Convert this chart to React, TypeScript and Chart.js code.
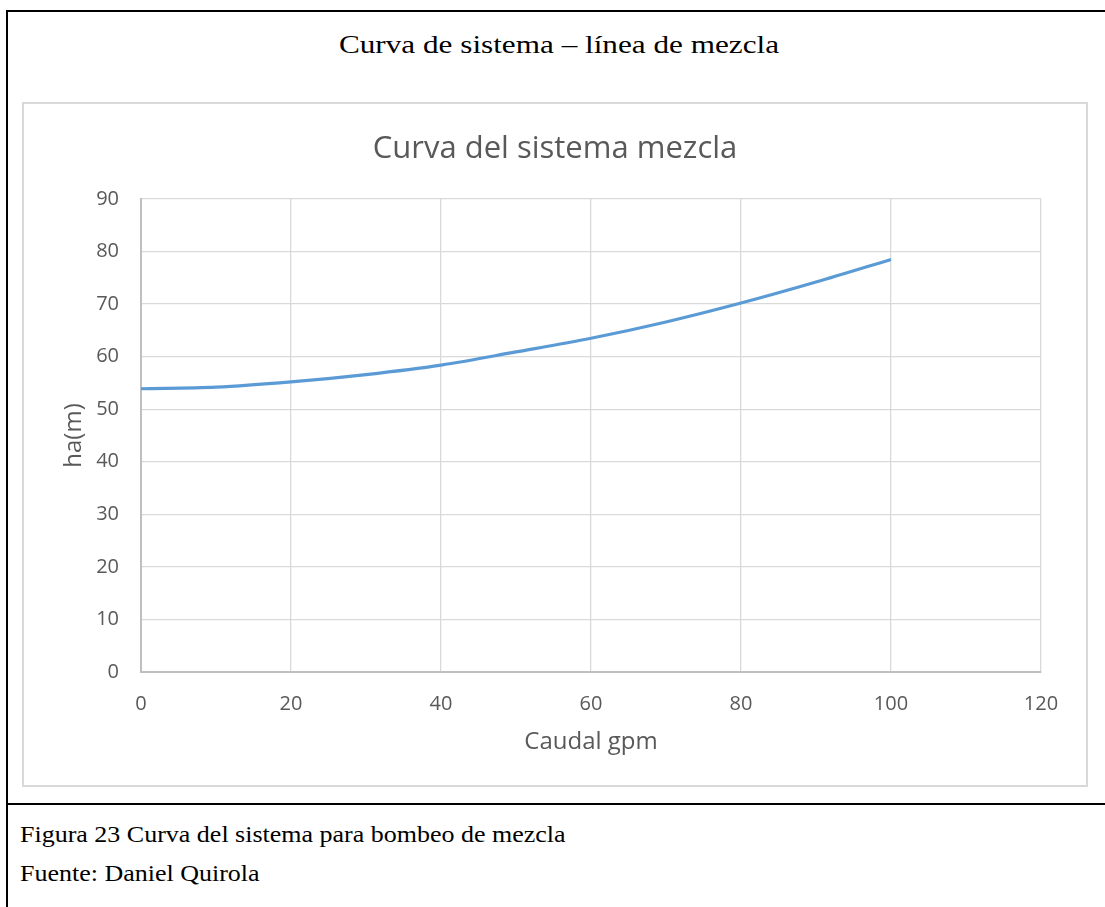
import React, { useEffect, useRef } from "react";
import { Chart, registerables } from "chart.js";

Chart.register(...registerables);

// Caudal (gpm) and head ha (m) of the mixing-line system curve
const caudalGpm = [0, 10, 20, 30, 40, 50, 60, 70, 80, 90, 100];
const alturaM = [53.9, 54.2, 55.2, 56.6, 58.4, 60.9, 63.5, 66.6, 70.2, 74.2, 78.5];

const xTicks = [0, 20, 40, 60, 80, 100, 120];
const yTicks = [0, 10, 20, 30, 40, 50, 60, 70, 80, 90];

const pageTitle = "Curva de sistema – línea de mezcla";
const chartTitle = "Curva del sistema mezcla";
const xTitle = "Caudal gpm";
const yTitle = "ha(m)";
const caption = "Figura 23 Curva del sistema para bombeo de mezcla";
const source = "Fuente: Daniel Quirola";

const GRAY_TEXT = "#595959";
const FONT = "'Open Sans', sans-serif";

function SystemCurve() {
  const canvasRef = useRef<HTMLCanvasElement | null>(null);

  useEffect(() => {
    if (!canvasRef.current) return;
    const points = caudalGpm.map((q, i) => ({ x: q, y: alturaM[i] }));
    const chart = new Chart(canvasRef.current, {
      type: "line",
      data: {
        datasets: [
          {
            data: points,
            borderColor: "#5b9bd5",
            borderWidth: 3.2,
            pointRadius: 0,
            fill: false,
            cubicInterpolationMode: "monotone",
          },
        ],
      },
      options: {
        animation: false,
        responsive: false,
        maintainAspectRatio: false,
        layout: { padding: { left: 45, right: 45, top: 0, bottom: 0 } },
        plugins: {
          legend: { display: false },
          tooltip: { enabled: false },
          title: {
            display: true,
            text: chartTitle,
            color: GRAY_TEXT,
            font: { family: FONT, size: 31, weight: "normal" },
            padding: { top: 26.4, bottom: 31.4 },
          },
        },
        scales: {
          x: {
            type: "linear",
            min: 0,
            max: 120,
            afterBuildTicks: (scale: any) => {
              scale.ticks = xTicks.map((v) => ({ value: v }));
            },
            afterFit: (scale: any) => {
              scale.height = 113;
            },
            ticks: {
              color: GRAY_TEXT,
              font: { family: FONT, size: 20 },
              padding: 20.5,
              maxRotation: 0,
            },
            grid: { color: "#d9d9d9", lineWidth: 1.3, drawTicks: false },
            border: { color: "#bfbfbf", width: 2 },
            title: {
              display: true,
              text: xTitle,
              color: GRAY_TEXT,
              font: { family: FONT, size: 24 },
              padding: { top: 0, bottom: 28.6 },
            },
          },
          y: {
            type: "linear",
            min: 0,
            max: 90,
            afterBuildTicks: (scale: any) => {
              scale.ticks = yTicks.map((v) => ({ value: v }));
            },
            afterFit: (scale: any) => {
              scale.width = 72;
            },
            ticks: {
              color: GRAY_TEXT,
              font: { family: FONT, size: 20 },
              padding: 22,
            },
            grid: { color: "#d9d9d9", lineWidth: 1.3, drawTicks: false },
            border: { color: "#bfbfbf", width: 2 },
            title: {
              display: true,
              text: yTitle,
              color: GRAY_TEXT,
              font: { family: FONT, size: 24 },
              padding: { top: -9.4, bottom: 0 },
            },
          },
        },
      },
    });
    return () => chart.destroy();
  }, []);

  return <canvas ref={canvasRef} width={1062} height={681} style={{ display: "block" }} />;
}

export default function App() {
  const serif = "'Liberation Serif', 'Times New Roman', serif";
  return (
    <div
      style={{
        position: "absolute",
        left: 0,
        top: 0,
        width: 1105,
        height: 907,
        background: "#ffffff",
        overflow: "hidden",
      }}
    >
      {/* frame: top and left rules */}
      <div
        style={{
          position: "absolute",
          left: 6,
          top: 10,
          right: 0,
          bottom: 0,
          borderTop: "2px solid #000",
          borderLeft: "2px solid #000",
        }}
      />
      {/* separator between figure and caption */}
      <div
        style={{
          position: "absolute",
          left: 6,
          top: 803,
          right: 0,
          height: 2,
          background: "#000",
        }}
      />
      <div
        style={{
          position: "absolute",
          left: 13,
          right: 0,
          top: 28,
          textAlign: "center",
          fontFamily: serif,
          fontSize: 26,
          lineHeight: "34px",
          color: "#000",
          transform: "scaleX(1.2)",
          transformOrigin: "50% 0",
        }}
      >
        {pageTitle}
      </div>
      <div
        style={{
          position: "absolute",
          left: 22,
          top: 102,
          width: 1066,
          height: 685,
          border: "2px solid #d9d9d9",
          boxSizing: "border-box",
          background: "#fff",
        }}
      >
        <SystemCurve />
      </div>
      <div
        style={{
          position: "absolute",
          left: 20,
          top: 822,
          fontFamily: serif,
          fontSize: 23,
          lineHeight: "26px",
          color: "#000",
          whiteSpace: "nowrap",
          transform: "scaleX(1.13)",
          transformOrigin: "0 0",
        }}
      >
        {caption}
      </div>
      <div
        style={{
          position: "absolute",
          left: 20,
          top: 861,
          fontFamily: serif,
          fontSize: 23,
          lineHeight: "26px",
          color: "#000",
          whiteSpace: "nowrap",
          transform: "scaleX(1.13)",
          transformOrigin: "0 0",
        }}
      >
        {source}
      </div>
    </div>
  );
}
